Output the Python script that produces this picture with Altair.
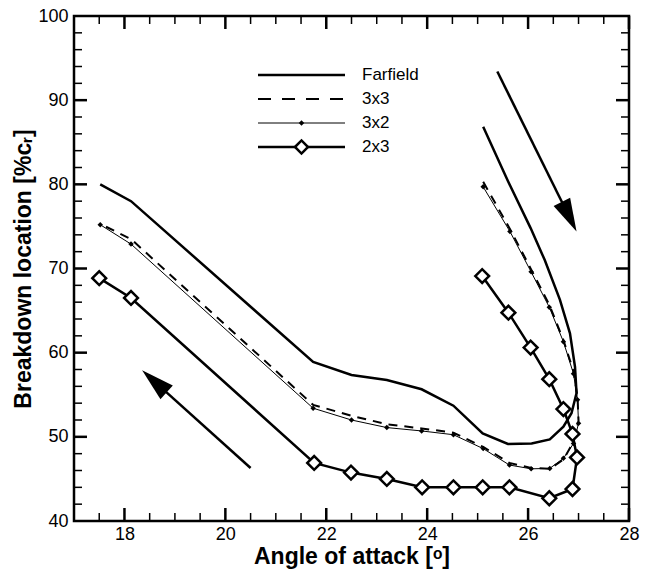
import math
import altair as alt
import pandas as pd

# ---------------- data ----------------
ff_alpha = [25.11, 25.60, 26.05, 26.33, 26.63, 26.83, 26.93, 26.96, 26.86, 26.70,
            26.43, 26.07, 25.60, 25.10, 24.52, 23.89, 23.20, 22.50, 21.74, 18.13, 17.52]
ff_loc = [86.85, 80.4, 74.8, 71.0, 66.3, 62.3, 58.3, 55.2, 52.8, 51.2,
          49.7, 49.2, 49.15, 50.4, 53.7, 55.65, 56.75, 57.35, 58.9, 78.0, 80.0]

g_alpha = [25.11, 25.64, 26.06, 26.42, 26.70, 26.90, 26.98, 27.00, 26.90, 26.70,
           26.43, 26.06, 25.63, 25.11, 24.52, 23.89, 23.20, 22.50, 21.74, 18.13, 17.52]
s33_loc = [80.3, 74.7, 69.9, 65.7, 61.5, 57.8, 54.7, 51.9, 49.4, 47.3,
           46.2, 46.3, 46.9, 48.8, 50.5, 51.0, 51.5, 52.5, 53.8, 73.5, 75.3]
s32_loc = [79.7, 74.4, 69.6, 65.4, 61.3, 57.5, 54.4, 51.6, 49.2, 47.45,
           46.25, 46.2, 46.65, 48.6, 50.25, 50.7, 51.1, 52.0, 53.4, 72.9, 75.2]

s23_alpha = [25.09, 25.61, 26.05, 26.42, 26.70, 26.88, 26.97, 26.88, 26.42, 25.63,
             25.10, 24.52, 23.90, 23.20, 22.49, 21.76, 18.13, 17.50]
s23_loc = [69.1, 64.75, 60.6, 56.85, 53.3, 50.35, 47.55, 43.8, 42.7, 44.0,
           44.0, 44.0, 44.0, 45.0, 45.75, 46.9, 66.5, 68.85]

arrow_tail_alpha = [25.39, 20.50]
arrow_tail_loc = [93.4, 46.3]
arrow_tip_alpha = [26.96, 18.35]
arrow_tip_loc = [74.4, 57.9]

legend_names = ["Farfield", "3x3", "3x2", "2x3"]

x_label_values = [18, 20, 22, 24, 26, 28]
x_minor_values = [17.5, 18.5, 19, 19.5, 20.5, 21, 21.5, 22.5, 23, 23.5, 24.5, 25,
                  25.5, 26.5, 27, 27.5]
y_label_values = [40, 50, 60, 70, 80, 90, 100]
y_major_values = [50, 60, 70, 80, 90]
y_minor_values = [42, 44, 46, 48, 52, 54, 56, 58, 62, 64, 66, 68, 72, 74, 76, 78,
                  82, 84, 86, 88, 92, 94, 96, 98]

# ---------------- layout / style ----------------
W, H = 555, 505
FONT = "Liberation Sans"
XDOM, YDOM = [17, 28], [40, 100]

xs = alt.Scale(domain=XDOM, nice=False, zero=False)
ys = alt.Scale(domain=YDOM, nice=False, zero=False)
Xn = alt.X("alpha:Q", scale=xs)
Yn = alt.Y("loc:Q", scale=ys)


def sdf(a, l):
    return pd.DataFrame({"alpha": a, "loc": l, "i": list(range(len(a)))})


X_ax = alt.X("alpha:Q", scale=xs, axis=alt.Axis(
    values=x_label_values, title="Angle of attack [ᵒ]", labelPadding=4,
    titleBaseline="alphabetic", titleY=42))
Y_ax = alt.Y("loc:Q", scale=ys, axis=alt.Axis(
    values=y_label_values, title="Breakdown location [%cᵣ]", labelPadding=6,
    titlePadding=2))

layers = []

# series first (carries the axes)
ff = alt.Chart(sdf(ff_alpha, ff_loc)).mark_line(color="black", strokeWidth=2.5).encode(
    x=X_ax, y=Y_ax, order="i:Q")


# inward ticks on all four sides
def xticks(vals, length, sw):
    d = pd.DataFrame({"alpha": vals})
    b = alt.Chart(d).mark_rule(color="black", strokeWidth=sw).encode(
        x=Xn, y=alt.value(H), y2=alt.value(H - length))
    t = alt.Chart(d).mark_rule(color="black", strokeWidth=sw).encode(
        x=Xn, y=alt.value(0), y2=alt.value(length))
    return [b, t]


def yticks(vals, length, sw):
    d = pd.DataFrame({"loc": vals})
    l = alt.Chart(d).mark_rule(color="black", strokeWidth=sw).encode(
        y=Yn, x=alt.value(0), x2=alt.value(length))
    r = alt.Chart(d).mark_rule(color="black", strokeWidth=sw).encode(
        y=Yn, x=alt.value(W), x2=alt.value(W - length))
    return [l, r]


tick_layers = []
tick_layers += xticks(x_minor_values, 8, 1.5)
tick_layers += xticks(x_label_values, 13, 2.5)
tick_layers += yticks(y_minor_values, 8, 1.5)
tick_layers += yticks(y_major_values, 13, 2.5)

s33 = alt.Chart(sdf(g_alpha, s33_loc)).mark_line(
    color="black", strokeWidth=2, strokeDash=[9, 7]).encode(x=Xn, y=Yn, order="i:Q")
s32_df = sdf(g_alpha, s32_loc)
s32 = alt.Chart(s32_df).mark_line(color="black", strokeWidth=1).encode(x=Xn, y=Yn, order="i:Q")
s32p = alt.Chart(s32_df).mark_point(shape="diamond", filled=True, color="black",
                                    size=30, opacity=1).encode(x=Xn, y=Yn)
s23_df = sdf(s23_alpha, s23_loc)
s23 = alt.Chart(s23_df).mark_line(color="black", strokeWidth=2.5).encode(x=Xn, y=Yn, order="i:Q")
s23p = alt.Chart(s23_df).mark_point(shape="diamond", filled=True, fill="white",
                                    stroke="black", strokeWidth=2.5, size=190,
                                    opacity=1).encode(x=Xn, y=Yn)
layers += [ff] + tick_layers + [s33, s32, s32p, s23, s23p]

# arrows
pxu = W / (XDOM[1] - XDOM[0])
pyu = H / (YDOM[1] - YDOM[0])
HEAD_LEN = 33
rows = []
for ta, tl, ha, hl in zip(arrow_tail_alpha, arrow_tail_loc, arrow_tip_alpha, arrow_tip_loc):
    dx = (ha - ta) * pxu
    dy = -(hl - tl) * pyu
    n = math.hypot(dx, dy)
    ang = math.degrees(math.atan2(dx, -dy)) % 360
    back = 0.6 * HEAD_LEN
    rows.append({"alpha": ta, "loc": tl, "alpha2": ha, "loc2": hl,
                 "alpha_s": ha - dx / n * back / pxu, "loc_s": hl + dy / n * back / pyu,
                 "ang": ang})
adf = pd.DataFrame(rows)
shaft = alt.Chart(adf).mark_rule(color="black", strokeWidth=2.5).encode(
    x=Xn, y=Yn, x2="alpha_s:Q", y2="loc_s:Q")
head = alt.Chart(adf).mark_point(
    shape="M0,0L-0.28,1L0.28,1Z", filled=True, color="black", opacity=1,
    size=(2 * HEAD_LEN) ** 2, strokeWidth=0).encode(
    x=alt.X("alpha2:Q", scale=xs), y=alt.Y("loc2:Q", scale=ys),
    angle=alt.Angle("ang:Q", scale=None))
layers += [shaft, head]

# legend (drawn inside the plot)
LX0, LX1, LTX = 184, 271, 288
LY = [59, 83, 107, 131]
for k, name in enumerate(legend_names):
    d = pd.DataFrame({"label": [name]})
    y = LY[k]
    if name == "Farfield":
        ln = alt.Chart(d).mark_rule(color="black", strokeWidth=2.5)
    elif name == "3x3":
        ln = alt.Chart(d).mark_rule(color="black", strokeWidth=2, strokeDash=[13, 11])
    elif name == "3x2":
        ln = alt.Chart(d).mark_rule(color="black", strokeWidth=1)
    else:
        ln = alt.Chart(d).mark_rule(color="black", strokeWidth=2.5)
    layers.append(ln.encode(x=alt.value(LX0), x2=alt.value(LX1), y=alt.value(y)))
    if name == "3x2":
        layers.append(alt.Chart(d).mark_point(shape="diamond", filled=True, color="black",
                                              size=30, opacity=1).encode(
            x=alt.value((LX0 + LX1) / 2), y=alt.value(y)))
    if name == "2x3":
        layers.append(alt.Chart(d).mark_point(shape="diamond", filled=True, fill="white",
                                              stroke="black", strokeWidth=2.5, size=170,
                                              opacity=1).encode(
            x=alt.value((LX0 + LX1) / 2), y=alt.value(y)))
    layers.append(alt.Chart(d).mark_text(align="left", baseline="middle", font=FONT,
                                         fontSize=17, color="black").encode(
        x=alt.value(LTX), y=alt.value(y), text="label:N"))

chart = alt.layer(*layers).properties(
    width=W, height=H,
    padding={"left": 74, "top": 16, "right": 21, "bottom": 48},
    autosize=alt.AutoSizeParams(type="none"),
    background="white",
).configure_view(stroke="black", strokeWidth=2.5).configure_axis(
    grid=False, ticks=False, tickSize=0, domain=False, labelFont=FONT, labelFontSize=18,
    labelColor="black", labelFlush=False, labelOverlap=False, titleFont=FONT,
    titleFontSize=23, titleFontWeight="bold", titleColor="black")

chart.save("out.html", embed_options={"renderer": "svg", "actions": False})
